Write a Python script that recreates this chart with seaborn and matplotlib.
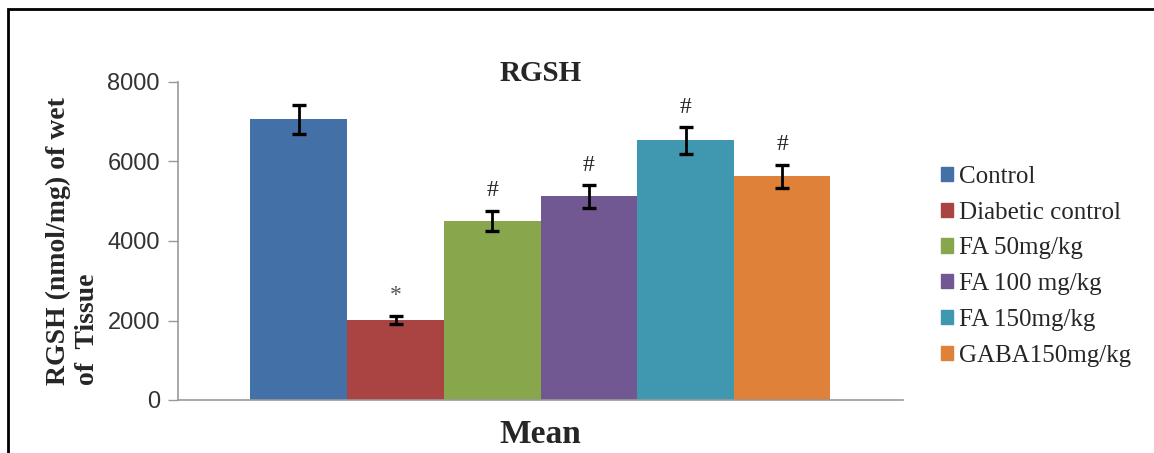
import pandas as pd
import numpy as np
import matplotlib.pyplot as plt
import seaborn as sns
from matplotlib.patches import Rectangle

# Values
groups = ["Control", "Diabetic control", "FA 50mg/kg", "FA 100 mg/kg",
          "FA 150mg/kg", "GABA150mg/kg"]
means = [7060, 2010, 4500, 5120, 6530, 5630]
sems = [360, 100, 250, 280, 330, 290]
marks = ["", "*", "#", "#", "#", "#"]
colors = ["#4470A8", "#AA4442", "#88A64B", "#725892", "#3F98B0", "#E08139"]

df = pd.DataFrame({"stat": ["Mean"] * len(groups), "group": groups, "value": means})

sns.set_style("white")
plt.rcParams['font.family'] = ['Liberation Serif', 'DejaVu Serif']

fig = plt.figure(figsize=(11.54, 4.53), dpi=100)
ax = fig.add_axes([178 / 1154, 1 - 400 / 453, (903 - 178) / 1154, (400 - 82) / 453])

sns.barplot(data=df, x="stat", y="value", hue="group", palette=colors,
            width=0.8, saturation=1, errorbar=None, linewidth=0, ax=ax)
ax.get_legend().remove()

# error bars and significance marks, placed on the drawn bars
xs = [c[0].get_x() + c[0].get_width() / 2 for c in ax.containers]
ax.errorbar(xs, means, yerr=sems, fmt='none', ecolor='black',
            elinewidth=2, capsize=5, capthick=2.4, zorder=3)
for x, m, s, t in zip(xs, means, sems, marks):
    if t:
        col = '#555555' if t == '*' else '#222222'
        ax.annotate(t, (x, m + s), xytext=(0, 7), textcoords='offset points',
                    ha='center', va='bottom', fontsize=17, color=col)

ax.set_xlim(-0.5, 0.5)
ax.set_ylim(0, 8000)
ax.set_yticks([0, 2000, 4000, 6000, 8000])
ax.set_xticks([])
ax.tick_params(axis='y', left=True, length=7, width=1, color='#999999',
               labelsize=17, labelcolor='#333333', pad=6)
for lab in ax.get_yticklabels():
    lab.set_fontfamily('Liberation Sans')
sns.despine(ax=ax)
for side in ['left', 'bottom']:
    ax.spines[side].set_color('#999999')
    ax.spines[side].set_linewidth(1.2)

ax.set_title("RGSH", fontsize=21, fontweight='bold', pad=1)
ax.set_xlabel("Mean", fontsize=24, fontweight='bold', labelpad=14)
ax.set_ylabel("RGSH (nmol/mg) of wet\nof  Tissue", fontsize=20,
              fontweight='bold', multialignment='left', labelpad=4)
ax.yaxis.set_label_coords(-0.108, 0.5)

handles = [Rectangle((0, 0), 1, 1, color=c) for c in colors]
fig.legend(handles, groups, loc='center left', bbox_to_anchor=(0.815, 0.412),
           frameon=False, fontsize=18, handlelength=0.5, handleheight=0.5,
           handletextpad=0.25, labelspacing=0.55, borderpad=0, borderaxespad=0)

# outer frame of the original figure
fig.add_artist(Rectangle((8 / 1154, -0.5), 2, 1.5 - 9 / 453, transform=fig.transFigure,
                         fill=False, edgecolor='black', linewidth=2))

fig.savefig("out.png", dpi=100)
